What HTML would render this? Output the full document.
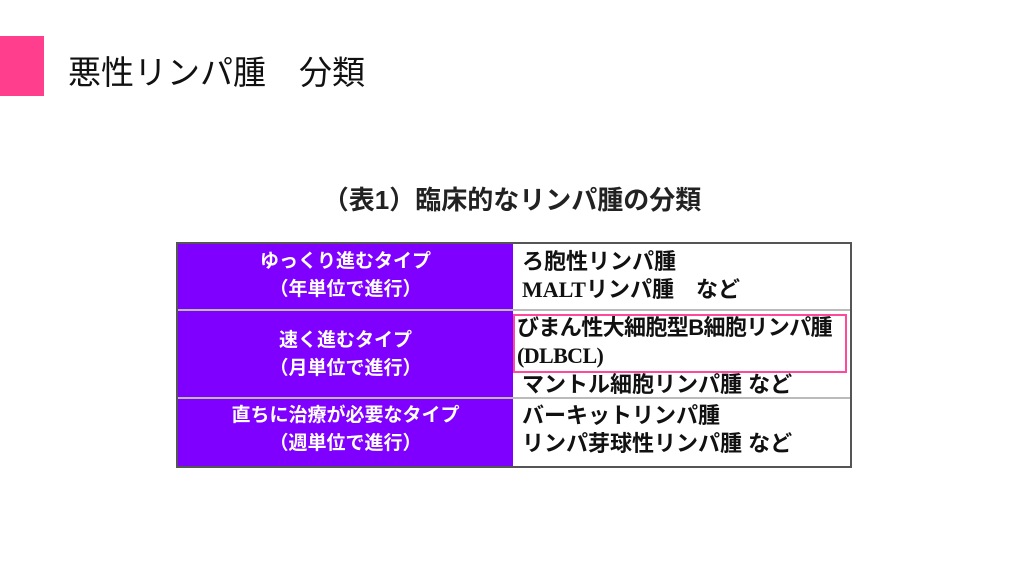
<!DOCTYPE html>
<html><head><meta charset="utf-8"><style>
body{margin:0;width:1024px;height:576px;background:#fff;position:relative;overflow:hidden;font-family:"Liberation Sans","Noto Sans CJK JP",sans-serif;}
.a{position:absolute;white-space:nowrap;}
.l{color:#fff;font-weight:bold;font-size:19px;text-align:center;line-height:28px;}
.r{color:#111;font-weight:bold;font-size:22px;line-height:28px;}
.s{font-family:"Liberation Serif","Noto Sans CJK JP",serif;}
</style></head><body>
<div class="a" style="left:0;top:36px;width:44px;height:60px;background:#ff3e8e"></div>
<div class="a" style="left:68px;top:46px;font-size:33px;color:#111;">悪性リンパ腫　分類</div>
<div class="a" style="left:0;width:1024px;top:180px;text-align:center;font-size:26px;font-weight:bold;color:#222;">（表1）臨床的なリンパ腫の分類</div>
<div class="a" style="left:176px;top:242px;width:676px;height:226px;background:#555;"></div>
<div class="a" style="left:178px;top:244px;width:335px;height:222px;background:#8000ff;"></div>
<div class="a" style="left:513px;top:244px;width:337px;height:222px;background:#fff;"></div>
<div class="a" style="left:178px;top:309px;width:672px;height:2px;background:#bbb;"></div>
<div class="a" style="left:178px;top:397px;width:672px;height:2px;background:#bbb;"></div>
<div class="a l" style="left:178px;width:335px;top:248px;">ゆっくり進むタイプ<br>（年単位で進行）</div>
<div class="a l" style="left:178px;width:335px;top:327px;">速く進むタイプ<br>（月単位で進行）</div>
<div class="a l" style="left:178px;width:335px;top:402px;">直ちに治療が必要なタイプ<br>（週単位で進行）</div>
<div class="a r" style="left:522px;top:248px;">ろ胞性リンパ腫<br><span class="s">MALT</span>リンパ腫　など</div>
<div class="a r" style="left:517px;top:314px;letter-spacing:-0.6px;">びまん性大細胞型B細胞リンパ腫<br><span class="s">(DLBCL)</span></div>
<div class="a r" style="left:522px;top:371px;">マントル細胞リンパ腫 など</div>
<div class="a r" style="left:522px;top:402px;">バーキットリンパ腫<br>リンパ芽球性リンパ腫 など</div>
<div class="a" style="left:513px;top:314px;width:330px;height:55px;border:2px solid #ff4a9a;"></div>
</body></html>
